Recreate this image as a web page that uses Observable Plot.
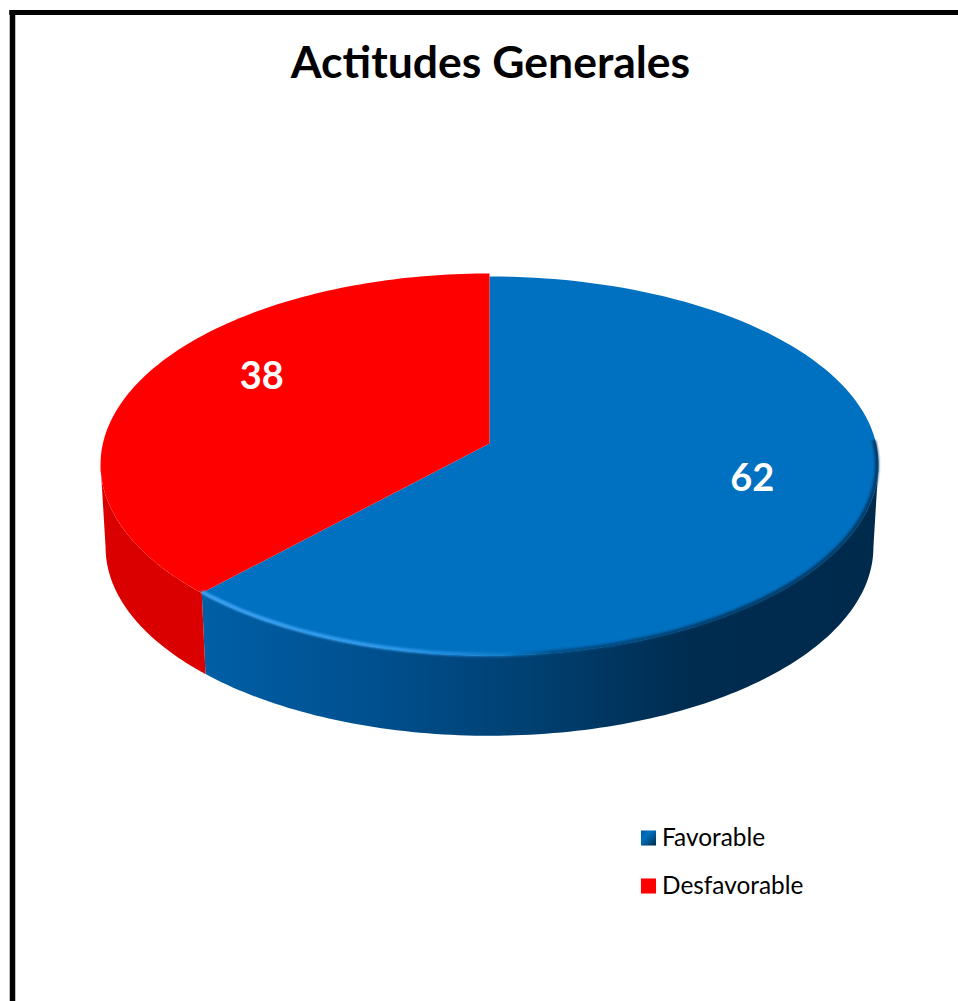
<!DOCTYPE html>
<html><head><meta charset="utf-8">
<script src="https://cdn.jsdelivr.net/npm/d3@7"></script>
<script src="https://cdn.jsdelivr.net/npm/@observablehq/plot@0.6"></script>
<style>html,body{margin:0;padding:0;background:#fff}svg{display:block}</style>
</head><body><div id="chart"></div>
<script>
const title = "Actitudes Generales";
const categories = ["Favorable", "Desfavorable"];
const values = [62, 38];

const W = 958, H = 1001;
const disc = {cx: 489, cy: 443, a: 386.6, b: 188.7, k: 0.11, depth: 83, shrink: 0.987, backDrop: 3};
const blue = "#0070c0", red = "#ff0000", redSide = "#da0000";
const labelPlace = [{r: 0.71, lift: -15}, {r: 0.65, lift: -23}];
const legendPlace = {x: 648, y: [837.5, 885.5], textX: 661.5};

// angle in radians clockwise from the top of the disc
function project(theta, r = 1, low = false, drop = 0) {
  const u = r * Math.sin(theta), v = -r * Math.cos(theta), w = 1 - disc.k * v;
  const s = low ? disc.shrink : 1;
  return {
    x: disc.cx + s * disc.a * u / w,
    y: disc.cy + s * disc.b * v / w + (low ? disc.depth : 0) + (v < 0 ? -v * drop : 0)
  };
}
const arcs = d3.pie().sort(null)(values);
const steps = (a0, a1) => d3.range(0, 121).map(i => a0 + (a1 - a0) * i / 120);
const topFace = arcs.flatMap((d, i) => [
  {i, ...project(0, 0)},
  ...steps(d.startAngle, d.endAngle).map(t => ({i, ...project(t, 1, false, i === 0 ? disc.backDrop : 0)}))
]);
// the silhouette of the disc touches its vertical tangent where cos(theta) = -k
const tangent = Math.acos(-disc.k);
const wallOf = (a0, a1) => [
  ...steps(a0, a1).map(t => project(t)),
  ...steps(a1, a0).map(t => project(t, 1, true))
];
const blueWall = wallOf(tangent, arcs[0].endAngle);
const redWall = wallOf(arcs[1].startAngle, 2 * Math.PI - tangent);
const rim = steps(tangent - 0.12, arcs[0].endAngle).map(t => project(t, 0.996, false, disc.backDrop));
const labels = arcs.map((d, i) => {
  const p = project((d.startAngle + d.endAngle) / 2, labelPlace[i].r);
  return {x: p.x, y: p.y + labelPlace[i].lift, text: String(values[i])};
});

const defs = () => {
  const ns = "http://www.w3.org/2000/svg";
  const g = document.createElementNS(ns, "defs");
  g.innerHTML = `
  <linearGradient id="wall" x1="0" x2="1" y1="0" y2="0">
    <stop offset="0" stop-color="#005fa6"/><stop offset="0.25" stop-color="#00508f"/>
    <stop offset="0.5" stop-color="#003f70"/><stop offset="0.72" stop-color="#002c50"/>
    <stop offset="1" stop-color="#002a4c"/>
  </linearGradient>
  <linearGradient id="rim" x1="0" x2="1" y1="0" y2="0">
    <stop offset="0" stop-color="#3fa4f5"/><stop offset="0.3" stop-color="#2e98ea"/>
    <stop offset="0.45" stop-color="#0d7ccc"/><stop offset="0.52" stop-color="#004f88"/>
    <stop offset="0.8" stop-color="#003a66"/><stop offset="1" stop-color="#003a66"/>
  </linearGradient>
  <linearGradient id="swatch" x1="0" x2="1" y1="0" y2="1">
    <stop offset="0" stop-color="#005a9e"/><stop offset="0.35" stop-color="#0070c0"/>
    <stop offset="0.65" stop-color="#00508a"/><stop offset="1" stop-color="#002a4c"/>
  </linearGradient>`;
  return g;
};

const chart = Plot.plot({
  width: W, height: H, margin: 0,
  x: {domain: [0, W], range: [0, W], axis: null},
  y: {domain: [0, H], range: [0, H], axis: null},
  style: {background: "#fff", fontFamily: "Lato, sans-serif", overflow: "hidden"},
  marks: [
    defs,
    Plot.ruleX([12], {y1: 12, y2: H, stroke: "#000", strokeWidth: 5.5}),
    Plot.ruleY([12], {x1: 9.25, x2: W, stroke: "#000", strokeWidth: 5}),
    Plot.line(blueWall, {x: "x", y: "y", fill: "url(#wall)", stroke: "none"}),
    Plot.line(redWall, {x: "x", y: "y", fill: redSide, stroke: "none"}),
    Plot.line(topFace, {x: "x", y: "y", z: "i", fill: d => d.i === 0 ? blue : red, stroke: "none"}),
    Plot.line(rim, {x: "x", y: "y", stroke: "url(#rim)", strokeWidth: 3.8, imageFilter: "blur(1.2px)"}),
    Plot.text(labels, {x: "x", y: "y", text: "text", fill: "#fff", fontSize: 38, fontWeight: 700}),
    Plot.text([title], {x: 490, y: 63, text: d => d, fill: "#000", fontSize: 44.5, fontWeight: 700}),
    Plot.dot(categories, {x: legendPlace.x, y: (d, i) => legendPlace.y[i], symbol: "square", r: 8.5, stroke: "none",
      fill: (d, i) => i === 0 ? "url(#swatch)" : red}),
    Plot.text(categories, {x: legendPlace.textX, y: (d, i) => legendPlace.y[i], text: d => d, textAnchor: "start", fill: "#000", fontSize: 24.4})
  ]
});
document.getElementById("chart").append(chart);
</script></body></html>
